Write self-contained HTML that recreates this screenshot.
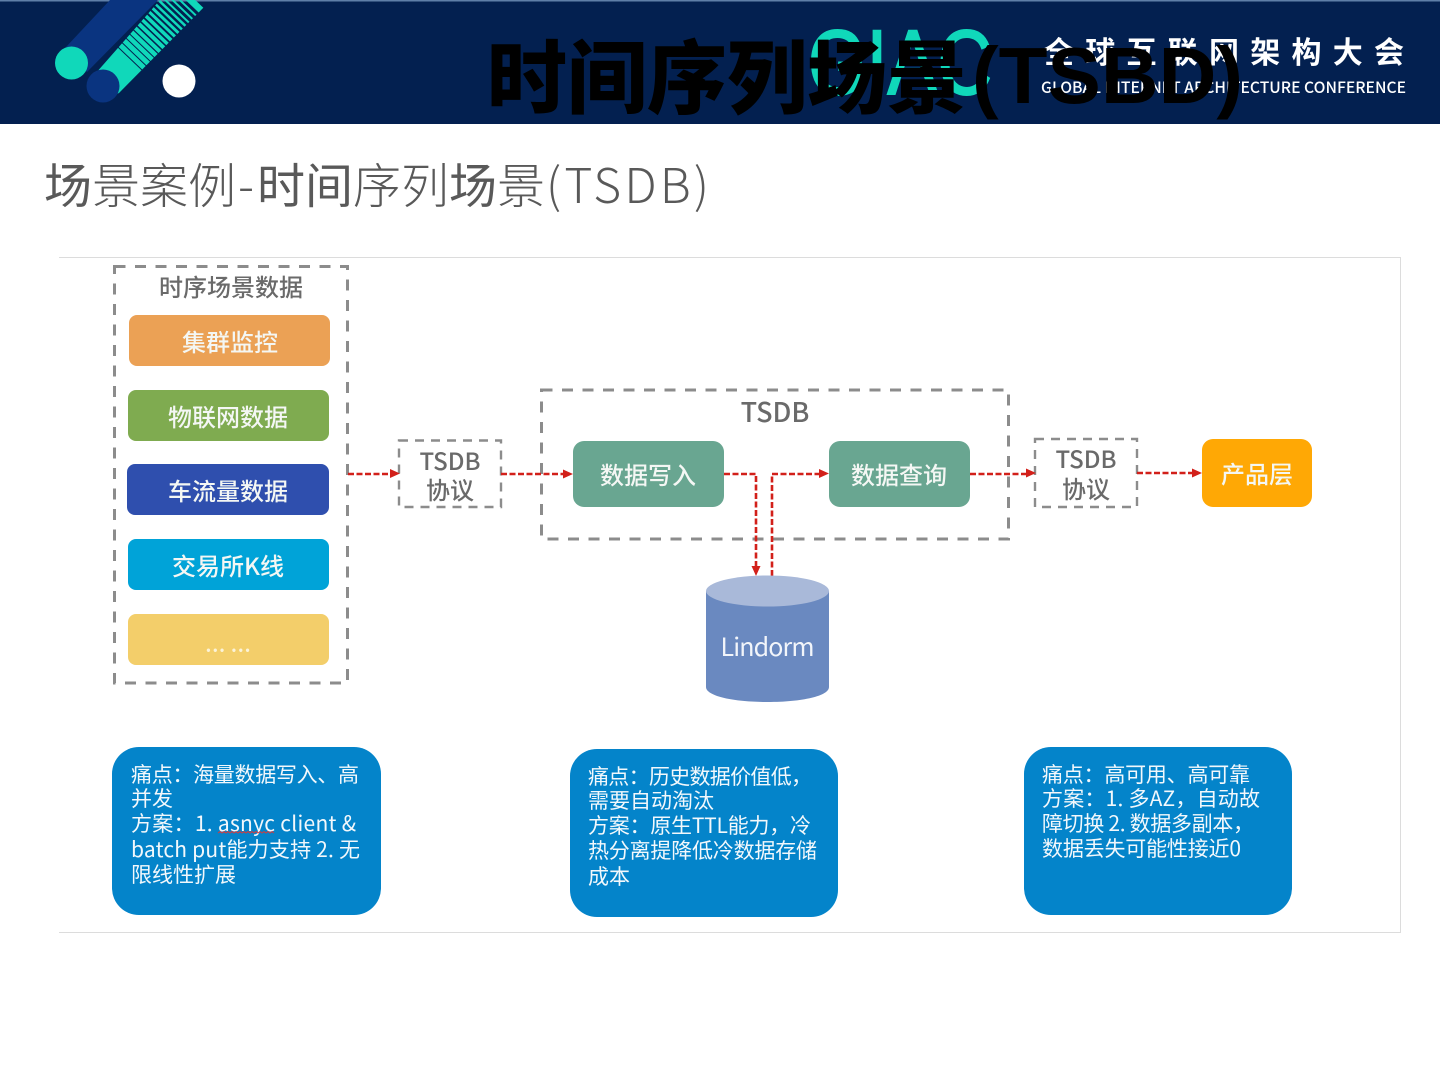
<!DOCTYPE html>
<html lang="zh">
<head>
<meta charset="utf-8">
<style>
html,body{margin:0;padding:0;background:#fff;width:1440px;height:1080px;overflow:hidden}
svg{display:block;font-family:"Noto Sans CJK SC","Liberation Sans",sans-serif}
.g{fill:#6a6a6a;font-size:24px;font-weight:500}
.w{fill:#f4f7f4;font-size:24px;font-weight:500}
.b{fill:#f2f8fc;font-size:21px;font-weight:400}
.c{font-family:"Noto Sans CJK TC",sans-serif}
.d{fill:none;stroke:#8c8c8c;stroke-width:3;stroke-dasharray:11 9.5}
.r{fill:none;stroke:#d2201a;stroke-width:2.6;stroke-dasharray:6 2.500}
.a{fill:#d2201a}
</style>
</head>
<body>
<svg width="1440" height="1080" viewBox="0 0 1440 1080" xmlns="http://www.w3.org/2000/svg">
<defs>
<clipPath id="tb"><polygon points="98.600,70 160,0 211,0 119,93 103,100"/></clipPath>
</defs>
<rect width="1440" height="124" fill="#032050"/>
<rect width="1440" height="1.500" fill="#5f7fa8"/>

<!-- logo -->
<polygon points="110,0 158,0 87,72 66,47" fill="#0a3480"/>
<g clip-path="url(#tb)">
<line x1="103" y1="86" x2="190" y2="-5" stroke="#10d8ba" stroke-width="70" stroke-dasharray="38 1 5 1 5 1 4.500 1 4.500 1.200 4 1.500 4 1.500 3.500 1.800 3.500 2 3 2 3 2.200 2.500 2.500 2.500 2.500 2 3 2 3 2 3"/>
</g>
<circle cx="71.500" cy="63" r="16.500" fill="#10d8ba"/>
<circle cx="103" cy="86" r="16.500" fill="#0a3480"/>
<circle cx="179" cy="81" r="16.500" fill="#fff"/>

<!-- header text -->
<text x="808" y="94" font-size="92" font-weight="400" fill="#10d8ba" stroke="#10d8ba" stroke-width="2" textLength="184" lengthAdjust="spacingAndGlyphs" style="font-family:'Liberation Sans',sans-serif">GIAC</text>
<text x="1044" y="63" font-size="30" font-weight="700" fill="#fff" textLength="360">全球互联网架构大会</text>
<text x="1041" y="93" font-size="15.500" font-weight="500" fill="#fff" textLength="365" lengthAdjust="spacingAndGlyphs">GLOBAL INTERNET ARCHITECTURE CONFERENCE</text>
<text x="487" y="107" font-size="80" font-weight="900" fill="#000">时间序列场景</text>
<text x="972" y="103" font-size="80" font-weight="700" fill="#000" style="font-family:'Liberation Sans',sans-serif">(TSBD)</text>

<!-- subtitle -->
<text y="203" font-size="48" font-weight="300" fill="#595959"><tspan x="44" font-weight="400">场</tspan><tspan>景案例</tspan><tspan x="238">-</tspan><tspan x="257" font-weight="400">时间</tspan><tspan>序列</tspan><tspan font-weight="400">场</tspan><tspan>景</tspan></text>
<text x="546" y="203" font-size="48" font-weight="300" fill="#595959" textLength="163">(TSDB)</text>

<!-- frame -->
<path d="M59,257.500H1400.500V932.500H59" fill="none" stroke="#dcdcdc" stroke-width="1"/>

<!-- left group -->
<rect class="d" x="114.500" y="266.500" width="233" height="416.500"/>
<text class="g" x="231" y="296" text-anchor="middle">时序场景数据</text>
<rect x="129" y="315" width="201" height="51" rx="8" fill="#eba155"/>
<text class="w" x="230" y="351" text-anchor="middle">集群监控</text>
<rect x="128" y="390" width="201" height="51" rx="8" fill="#7fab50"/>
<text class="w" x="228" y="426" text-anchor="middle">物联网数据</text>
<rect x="127" y="464" width="202" height="51" rx="8" fill="#2f4fae"/>
<text class="w" x="228" y="500" text-anchor="middle">车流量数据</text>
<rect x="128" y="539" width="201" height="51" rx="8" fill="#00a3d8"/>
<text class="w" x="228" y="575" text-anchor="middle">交易所K线</text>
<rect x="128" y="614" width="201" height="51" rx="8" fill="#f3ce6a"/>
<text x="228" y="652" text-anchor="middle" fill="#fbf3d8" font-size="18" font-weight="700" textLength="45">... ...</text>

<!-- protocol 1 -->
<rect class="d" x="399" y="440.500" width="102" height="66.500" style="stroke-width:2.400;stroke-dasharray:9 7"/>
<text class="g" x="450" y="470" text-anchor="middle">TSDB</text>
<text class="g" x="450" y="499" text-anchor="middle">协议</text>

<!-- TSDB group -->
<rect class="d" x="541.500" y="390" width="467" height="149"/>
<text x="775" y="422" text-anchor="middle" font-size="27" font-weight="500" fill="#6a6a6a">TSDB</text>
<rect x="573" y="441" width="151" height="66" rx="11" fill="#69a691"/>
<text class="w" x="648" y="484" text-anchor="middle">数据写入</text>
<rect x="829" y="441" width="141" height="66" rx="11" fill="#69a691"/>
<text class="w" x="899" y="484" text-anchor="middle">数据查询</text>

<!-- protocol 2 -->
<rect class="d" x="1035" y="439" width="102" height="68" style="stroke-width:2.400;stroke-dasharray:9 7"/>
<text class="g" x="1086" y="468" text-anchor="middle">TSDB</text>
<text class="g" x="1086" y="498" text-anchor="middle">协议</text>

<!-- product -->
<rect x="1202" y="439" width="110" height="68" rx="11" fill="#ffa805"/>
<text class="w" x="1257" y="483" text-anchor="middle">产品层</text>

<!-- connectors -->
<path class="r" d="M348,474H392"/><polygon class="a" points="400,473.500 390,469 390,478"/>
<path class="r" d="M501,474H565"/><polygon class="a" points="573,474 563,469.500 563,478.500"/>
<path class="r" d="M724,474H756V568"/><polygon class="a" points="756,576 751.500,566 760.500,566"/>
<path class="r" d="M772,576V474H821"/><polygon class="a" points="829,473.500 819,469 819,478"/>
<path class="r" d="M970,474H1028"/><polygon class="a" points="1036,473 1026,468.500 1026,477.500"/>
<path class="r" d="M1137,473H1194"/><polygon class="a" points="1202,473 1192,468.500 1192,477.500"/>

<!-- cylinder -->
<path d="M706,591V687C706,696 733,702 767.500,702C802,702 829,696 829,687V591Z" fill="#6a89c0"/>
<ellipse cx="767.500" cy="591" rx="61.500" ry="15.500" fill="#a9b9d9"/>
<text x="767.500" y="656" text-anchor="middle" font-size="25" fill="#f2f5fa" textLength="94">Lindorm</text>

<!-- bottom boxes -->
<rect x="112" y="747" width="269" height="168" rx="27" fill="#0484ca"/>
<g class="b">
<text x="131" y="782" textLength="228">痛点<tspan class="c">：</tspan>海量数据写入、高</text>
<text x="131" y="806">并发</text>
<text x="131" y="831" textLength="225">方案<tspan class="c">：</tspan>1. asnyc client &amp;</text>
<text x="131" y="857" textLength="229">batch put能力支持 2. 无</text>
<text x="131" y="882">限线性扩展</text>
</g>
<path d="M218,833l2,-1.500l2,1.500l2,-1.500l2,1.500l2,-1.500l2,1.500l2,-1.500l2,1.500l2,-1.500l2,1.500l2,-1.500l2,1.500l2,-1.500l2,1.500l2,-1.500l2,1.500l2,-1.500l2,1.500l2,-1.500l2,1.500l2,-1.500l2,1.500l2,-1.500l2,1.500l2,-1.500l2,1.500l2,-1.500l2,1.500" fill="none" stroke="#d83a3a" stroke-width="1"/>

<rect x="570" y="749" width="268" height="168" rx="27" fill="#0484ca"/>
<g class="b">
<text x="588" y="784" textLength="224">痛点<tspan class="c">：</tspan>历史数据价值低，</text>
<text x="588" y="808">需要自动淘汰</text>
<text x="588" y="833" textLength="223">方案<tspan class="c">：</tspan>原生TTL能力，冷</text>
<text x="588" y="858" textLength="229">热分离提降低冷数据存储</text>
<text x="588" y="884">成本</text>
</g>

<rect x="1024" y="747" width="268" height="168" rx="27" fill="#0484ca"/>
<g class="b">
<text x="1042" y="782" textLength="208">痛点<tspan class="c">：</tspan>高可用、高可靠</text>
<text x="1042" y="806" textLength="218">方案<tspan class="c">：</tspan>1. 多AZ，自动故</text>
<text x="1042" y="831" textLength="212">障切换 2. 数据多副本，</text>
<text x="1042" y="856" textLength="199">数据丢失可能性接近0</text>
</g>
</svg>
</body>
</html>
